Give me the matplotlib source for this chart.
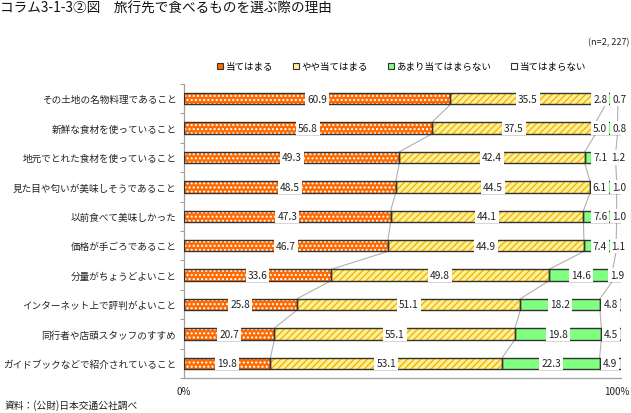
#!/usr/bin/env python3
"""Column 3-1-3 (2): reasons for choosing what to eat at a travel destination.

100% stacked horizontal bars, Excel-style (centred labels on white boxes,
series lines between bars).
"""
import matplotlib
matplotlib.use("Agg")
import matplotlib.pyplot as plt
import matplotlib.transforms as mtransforms
from matplotlib.patches import Patch
import numpy as np

# ── data ──────────────────────────────────────────────────────────────────────

CATEGORIES = [
    "その土地の名物料理であること",
    "新鮮な食材を使っていること",
    "地元でとれた食材を使っていること",
    "見た目や匂いが美味しそうであること",
    "以前食べて美味しかった",
    "価格が手ごろであること",
    "分量がちょうどよいこと",
    "インターネット上で評判がよいこと",
    "同行者や店頭スタッフのすすめ",
    "ガイドブックなどで紹介されていること",
]

SERIES = ["当てはまる", "やや当てはまる", "あまり当てはまらない", "当てはまらない"]

APPLIES      = [60.9, 56.8, 49.3, 48.5, 47.3, 46.7, 33.6, 25.8, 20.7, 19.8]
SOMEWHAT     = [35.5, 37.5, 42.4, 44.5, 44.1, 44.9, 49.8, 51.1, 55.1, 53.1]
NOT_MUCH     = [2.8, 5.0, 7.1, 6.1, 7.6, 7.4, 14.6, 18.2, 19.8, 22.3]
NOT_AT_ALL   = [0.7, 0.8, 1.2, 1.0, 1.0, 1.1, 1.9, 4.8, 4.5, 4.9]

TITLE = "コラム3-1-3②図　旅行先で食べるものを選ぶ際の理由"
N_NOTE = "(n=2, 227)"
SOURCE = "資料：(公財)日本交通公社調べ"

# ── style ─────────────────────────────────────────────────────────────────────

plt.rcParams["font.family"] = ["Noto Sans CJK JP", "DejaVu Sans"]
plt.rcParams["hatch.linewidth"] = 1.0

FACE  = ["#FF6A00", "#FFF09A", "#80FF80", "#FFFFFF"]
HATCH = ["....", "/////", None, None]
HCOL  = ["#FFFFFF", "#F2B600", None, None]
EDGE = "#333333"
AXIS = "#A0A0A0"
TXT = "#222222"


def main():
    fig = plt.figure(figsize=(6.31, 4.14), dpi=100)
    fig.patch.set_facecolor("white")
    ax = fig.add_axes([184 / 631, 1 - 379 / 414, 437 / 631, 294 / 414])

    raw = np.array([APPLIES, SOMEWHAT, NOT_MUCH, NOT_AT_ALL], dtype=float)
    pct = raw / raw.sum(axis=0) * 100          # Excel normalises 100% stacks
    cum = np.cumsum(pct, axis=0)
    left = cum - pct
    y = np.arange(len(CATEGORIES))
    h = 0.39

    for k in range(len(SERIES)):
        if HATCH[k]:
            ax.barh(y, pct[k], left=left[k], height=h, color=FACE[k],
                    hatch=HATCH[k], edgecolor=HCOL[k], linewidth=0, zorder=2)
        else:
            ax.barh(y, pct[k], left=left[k], height=h, color=FACE[k],
                    linewidth=0, zorder=2)
        ax.barh(y, pct[k], left=left[k], height=h, facecolor="none",
                edgecolor=EDGE, linewidth=1.0, zorder=3)

    # series lines between consecutive bars
    for k in range(len(SERIES)):
        for i in range(len(CATEGORIES) - 1):
            ax.plot([cum[k, i], cum[k, i + 1]], [i + h / 2, i + 1 - h / 2],
                    color="#B0B0B0", lw=0.8, zorder=2.5)

    # centred value labels on white boxes
    labels = {}
    for k in range(len(SERIES)):
        for i in range(len(CATEGORIES)):
            labels[k, i] = ax.text(
                left[k, i] + pct[k, i] / 2, i, f"{raw[k, i]:.1f}",
                ha="center", va="center", fontsize=7.3, color=TXT, zorder=5,
                bbox=dict(boxstyle="square,pad=0.2", fc="white", ec="none"))

    ax.set_xlim(0, 100)
    ax.set_ylim(len(CATEGORIES) - 0.5, -0.5)

    # nudge the 3rd label left only where its text runs into the 4th
    fig.canvas.draw()
    px_per_unit = ax.bbox.width / 100
    for i in range(len(CATEGORIES)):
        a = labels[2, i].get_window_extent()
        b = labels[3, i].get_window_extent()
        gap = b.x0 - a.x1 - 2
        if gap < 0:
            x0, y0 = labels[2, i].get_position()
            labels[2, i].set_position((x0 + (gap - 3) / px_per_unit, y0))

    ax.set_yticks(y)
    ax.set_yticklabels(CATEGORIES, fontsize=6.9, color=TXT)
    ax.set_yticks(np.arange(len(CATEGORIES) + 1) - 0.5, minor=True)
    ax.tick_params(axis="y", which="major", length=0, pad=5.5)
    ax.tick_params(axis="y", which="minor", length=3, color=AXIS, width=0.8)
    ax.set_xticks([0, 100])
    ax.set_xticklabels(["0%", "100%"], fontsize=7, color=TXT)
    ax.tick_params(axis="x", length=0, pad=6)
    last = ax.get_xticklabels()[-1]
    last.set_ha("right")
    last.set_transform(last.get_transform() + mtransforms.ScaledTranslation(
        0.08, 0, fig.dpi_scale_trans))

    ax.spines[["top", "right"]].set_visible(False)
    for s in ("left", "bottom"):
        ax.spines[s].set_color(AXIS)
        ax.spines[s].set_linewidth(0.9)

    handles = [Patch(facecolor=FACE[k], edgecolor=EDGE, linewidth=0.8)
               for k in range(len(SERIES))]
    fig.legend(handles, SERIES, loc="center", bbox_to_anchor=(0.637, 0.836),
               ncol=4, frameon=False, fontsize=6.8, handlelength=0.6,
               handleheight=0.6, handletextpad=0.3, columnspacing=2.1)

    fig.text(0.0, 1 - 9 / 414, TITLE, fontsize=9.8, va="center", ha="left",
             color="#111111")
    fig.text(0.998, 1 - 43 / 414, N_NOTE, fontsize=6.5, va="center", ha="right",
             color=TXT)
    fig.text(0.008, 1 - 406 / 414, SOURCE, fontsize=7, va="center", ha="left",
             color=TXT)

    fig.savefig("out.png", dpi=100)
    plt.close(fig)


if __name__ == "__main__":
    main()
